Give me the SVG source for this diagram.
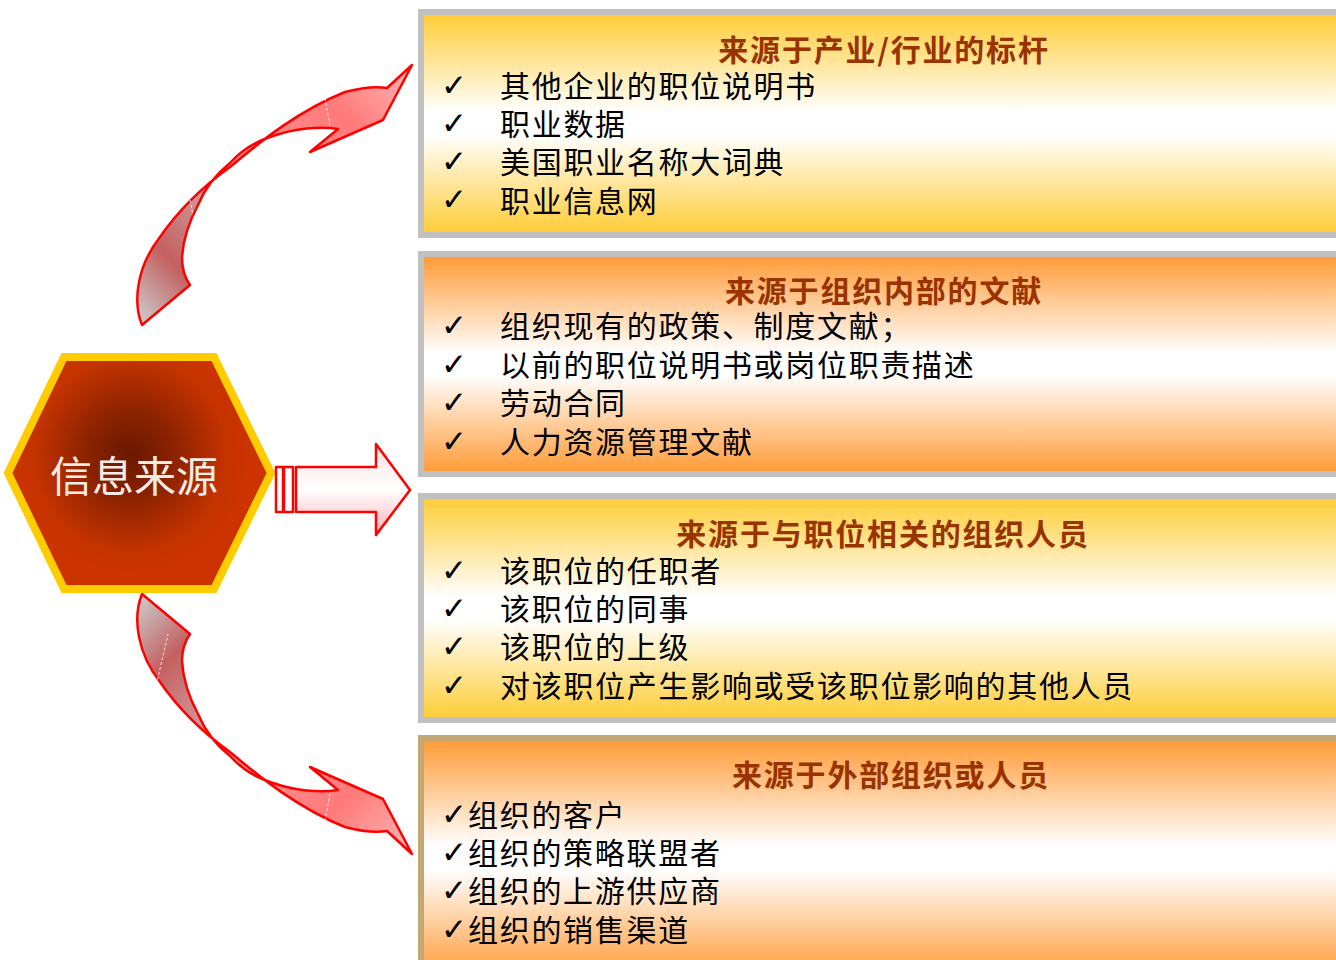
<svg xmlns="http://www.w3.org/2000/svg" width="1336" height="960" viewBox="0 0 1336 960">
<style>
.title{font-family:"Noto Sans CJK SC","Noto Sans CJK JP",sans-serif;font-size:30px;letter-spacing:1.8px;font-weight:bold;fill:#993300;text-anchor:middle}
.item{font-family:"Noto Sans CJK SC","Noto Sans CJK JP",sans-serif;font-size:30px;letter-spacing:1.7px;fill:#000}
.chk{font-family:"DejaVu Sans",sans-serif;font-size:31px;font-weight:bold;fill:#000;letter-spacing:0}
.frame{stroke:#c0c0c0;stroke-width:6}
.arrow{stroke:#ff0000;stroke-width:2.5;stroke-linejoin:round}
.dash{stroke:#ffffff;stroke-width:1;stroke-dasharray:3 2;fill:none;opacity:0.8}
</style>
<defs>
<linearGradient id="gY" x1="0" y1="0" x2="0" y2="1">
<stop offset="0" stop-color="#ffcc33"/>
<stop offset="0.45" stop-color="#ffffff"/>
<stop offset="0.55" stop-color="#ffffff"/>
<stop offset="1" stop-color="#ffcc33"/>
</linearGradient>
<linearGradient id="gO" x1="0" y1="0" x2="0" y2="1">
<stop offset="0" stop-color="#ff9933"/>
<stop offset="0.45" stop-color="#ffffff"/>
<stop offset="0.55" stop-color="#ffffff"/>
<stop offset="1" stop-color="#ff9933"/>
</linearGradient>
<radialGradient id="gHex" cx="130" cy="455" r="120" gradientUnits="userSpaceOnUse">
<stop offset="0" stop-color="#6a1800"/>
<stop offset="0.35" stop-color="#8a2200"/>
<stop offset="0.8" stop-color="#c43300"/>
<stop offset="1" stop-color="#cc3300"/>
</radialGradient>
<linearGradient id="gStraight" x1="0" y1="0" x2="0" y2="1">
<stop offset="0" stop-color="#ffe0e0"/>
<stop offset="0.5" stop-color="#ffffff"/>
<stop offset="1" stop-color="#ffb0b8"/>
</linearGradient>
<linearGradient id="gCurve" x1="142" y1="325" x2="400" y2="70" gradientUnits="userSpaceOnUse">
<stop offset="0" stop-color="#cccccc"/>
<stop offset="0.18" stop-color="#c46060"/>
<stop offset="0.4" stop-color="#d0a0a0"/>
<stop offset="0.55" stop-color="#ff9090"/>
<stop offset="0.8" stop-color="#ff7a7a"/>
<stop offset="1" stop-color="#ffb0b0"/>
</linearGradient>
<path id="curveArrow" d="M142,325 C132,300 138,265 160,237 C180,208 205,185 230,167 C262,140 300,110 345,92 C360,88 375,86 387,88 L412,65 L383,120 L310,152 L338,129 C320,126 295,128 270,137 C255,142 240,152 230,163 C215,175 205,188 198,205 C190,220 183,240 182,258 C182,268 185,278 190,285 Z"/>
</defs>

<g id="box1">
<rect x="421" y="12" width="930" height="223" fill="url(#gY)" class="frame"/>
<text class="title" x="884" y="61">来源于产业/行业的标杆</text>
<text class="chk" x="441" y="96">✓</text><text class="item" x="500" y="97">其他企业的职位说明书</text>
<text class="chk" x="441" y="134">✓</text><text class="item" x="500" y="135">职业数据</text>
<text class="chk" x="441" y="172">✓</text><text class="item" x="500" y="173">美国职业名称大词典</text>
<text class="chk" x="441" y="210">✓</text><text class="item" x="500" y="212">职业信息网</text>
</g>

<g id="box2">
<rect x="421" y="254" width="930" height="220" fill="url(#gO)" class="frame"/>
<text class="title" x="884" y="302">来源于组织内部的文献</text>
<text class="chk" x="441" y="336">✓</text><text class="item" x="500" y="337">组织现有的政策、制度文献；</text>
<text class="chk" x="441" y="375">✓</text><text class="item" x="500" y="376">以前的职位说明书或岗位职责描述</text>
<text class="chk" x="441" y="413">✓</text><text class="item" x="500" y="414">劳动合同</text>
<text class="chk" x="441" y="452">✓</text><text class="item" x="500" y="453">人力资源管理文献</text>
</g>

<g id="box3">
<rect x="421" y="496" width="930" height="224" fill="url(#gY)" class="frame"/>
<text class="title" x="883" y="545">来源于与职位相关的组织人员</text>
<text class="chk" x="441" y="581">✓</text><text class="item" x="500" y="582">该职位的任职者</text>
<text class="chk" x="441" y="619">✓</text><text class="item" x="500" y="620">该职位的同事</text>
<text class="chk" x="441" y="657">✓</text><text class="item" x="500" y="658">该职位的上级</text>
<text class="chk" x="441" y="696">✓</text><text class="item" x="500" y="697">对该职位产生影响或受该职位影响的其他人员</text>
</g>

<g id="box4">
<rect x="421" y="738" width="930" height="240" fill="url(#gO)" class="frame" style="stroke:#c4a873"/>
<text class="title" x="891" y="786">来源于外部组织或人员</text>
<text class="chk" x="441" y="825">✓</text><text class="item" x="468" y="826">组织的客户</text>
<text class="chk" x="441" y="863">✓</text><text class="item" x="468" y="864">组织的策略联盟者</text>
<text class="chk" x="441" y="901">✓</text><text class="item" x="468" y="902">组织的上游供应商</text>
<text class="chk" x="441" y="940">✓</text><text class="item" x="468" y="941">组织的销售渠道</text>
</g>

<g id="hub">
<polygon points="64,357 214,357 271,473 214,589 64,589 8,473" fill="url(#gHex)" stroke="#ffcc00" stroke-width="8" stroke-linejoin="miter"/>
<text x="134" y="492" text-anchor="middle" style="font-family:'Noto Sans CJK SC','Noto Sans CJK JP',sans-serif;font-size:42px;fill:#f4ece4">信息来源</text>
</g>

<g id="connectors">
<g id="arrow-right">
<rect x="276" y="467" width="7" height="45" fill="#ffffff" class="arrow" stroke-width="2"/>
<rect x="284" y="467" width="9" height="45" fill="#ffffff" class="arrow" stroke-width="2"/>
<path d="M296,467 L376,467 L376,444 L410,490 L376,535 L376,512 L296,512 Z" fill="url(#gStraight)" class="arrow" stroke-width="2"/>
</g>
<g id="arrow-up">
<use href="#curveArrow" fill="url(#gCurve)" class="arrow"/>
<path d="M325,98 L330,126" class="dash"/>
<path d="M190,200 L193,215" class="dash"/>
</g>
<g id="arrow-down" transform="matrix(1 0 0 -1 0 919)">
<use href="#curveArrow" fill="url(#gCurve)" class="arrow"/>
<path d="M325,98 L330,126" class="dash"/>
<path d="M152,215 L168,285" class="dash"/>
</g>
</g>
</svg>
